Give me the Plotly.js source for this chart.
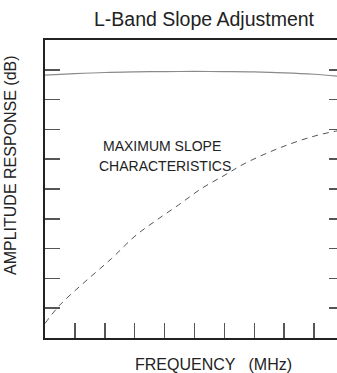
<!DOCTYPE html>
<html>
<head>
<meta charset="utf-8">
<script src="https://cdn.plot.ly/plotly-3.0.1.min.js"></script>
<style>
html,body{margin:0;padding:0;overflow:hidden;background:#fff;}
#chart{width:350px;height:373px;}
</style>
</head>
<body>
<div id="chart"></div>
<script>
// Frequency positions (relative units, 0..10 across the plot)
const freqSolid = [0, 1, 2, 3, 4, 5, 6, 7, 8, 9, 10];
const ampSolid = [8.82, 8.87, 8.91, 8.93, 8.94, 8.945, 8.94, 8.93, 8.9, 8.85, 8.77];

const freqDashed = [0, 0.5, 1.34, 2.23, 3.01, 3.68, 4.46, 5.24, 6.02, 6.69, 7.8, 8.92, 9.77, 10];
const ampDashed = [0.49, 1.11, 1.89, 2.67, 3.42, 3.92, 4.46, 5.02, 5.47, 5.86, 6.36, 6.75, 6.95, 6.98];

const tickPositions = [1, 2, 3, 4, 5, 6, 7, 8, 9];

const font = '"Liberation Sans", Arial, Helvetica, sans-serif';

const traces = [
  {x: freqSolid, y: ampSolid, mode: 'lines', line: {color: '#8a8a8a', width: 1.2, shape: 'spline'}, hoverinfo: 'skip'},
  {x: freqDashed, y: ampDashed, mode: 'lines', line: {color: '#555', width: 1, dash: '6px,5px', shape: 'spline'}, hoverinfo: 'skip'}
];

const axisCommon = {
  range: [0, 10], showgrid: false, zeroline: false, showticklabels: false,
  showline: true, linecolor: '#222', linewidth: 2,
  ticks: 'inside', ticklen: 15, tickwidth: 1.5, tickcolor: '#555',
  tickmode: 'array', tickvals: tickPositions, fixedrange: true
};

const layout = {
  width: 350, height: 373,
  margin: {l: 45, r: 6, t: 40, b: 35},
  paper_bgcolor: '#fff', plot_bgcolor: '#fff',
  showlegend: false,
  font: {family: font, color: '#222'},
  title: {text: 'L-Band Slope Adjustment', font: {family: font, size: 19.5, color: '#222'},
          x: 204/350, xanchor: 'center', y: 1 - 19/373, yanchor: 'middle', xref: 'container', yref: 'container'},
  xaxis: Object.assign({}, axisCommon, {mirror: true}),
  yaxis: Object.assign({}, axisCommon, {mirror: 'ticks'}),
  annotations: [
    {text: 'MAXIMUM SLOPE', x: 3.9, y: 6.45, xref: 'x', yref: 'y', showarrow: false,
     font: {family: font, size: 14, color: '#222'}, xanchor: 'center', yanchor: 'middle'},
    {text: 'CHARACTERISTICS', x: 4.01, y: 5.77, xref: 'x', yref: 'y', showarrow: false,
     font: {family: font, size: 14, color: '#222'}, xanchor: 'center', yanchor: 'middle'},
    {text: 'AMPLITUDE RESPONSE (dB)', x: (10-45)/299, y: 1-(165-40)/298, xref: 'paper', yref: 'paper',
     textangle: -90, showarrow: false, font: {family: font, size: 16, color: '#222'}, xanchor: 'center', yanchor: 'middle'},
    {text: 'FREQUENCY   (MHz)', x: (213-45)/299, y: -(364-338)/298, xref: 'paper', yref: 'paper',
     showarrow: false, font: {family: font, size: 16, color: '#222'}, xanchor: 'center', yanchor: 'middle'}
  ]
};

Plotly.newPlot('chart', traces, layout, {staticPlot: true, displayModeBar: false});
</script>
</body>
</html>
